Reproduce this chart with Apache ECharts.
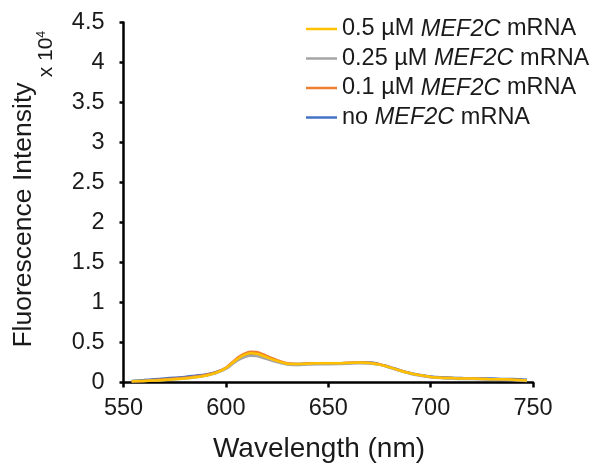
<!DOCTYPE html>
<html>
<head>
<meta charset="utf-8">
<script src="https://cdn.jsdelivr.net/npm/echarts@6/dist/echarts.min.js"></script>
<style>
html,body{margin:0;padding:0;background:#fff;}
#chart{width:594px;height:470px;}
</style>
</head>
<body>
<div id="chart"></div>
<script>
// Wavelength (nm)
var wavelengths = [554, 560, 565, 570, 575, 580, 585, 590, 595, 600, 603, 606, 609, 612, 615, 618, 621, 625, 630, 635, 640, 645, 650, 655, 660, 665, 670, 675, 680, 685, 690, 695, 700, 705, 710, 715, 720, 725, 730, 735, 740, 747];
// Fluorescence intensity (x 10^4)
var noMRNA   = [0.020, 0.030, 0.040, 0.050, 0.060, 0.070, 0.085, 0.100, 0.130, 0.180, 0.235, 0.290, 0.330, 0.350, 0.345, 0.325, 0.295, 0.265, 0.235, 0.230, 0.235, 0.240, 0.240, 0.240, 0.245, 0.250, 0.250, 0.230, 0.195, 0.155, 0.120, 0.095, 0.075, 0.065, 0.060, 0.055, 0.050, 0.050, 0.050, 0.045, 0.045, 0.035];
var c01      = [0.015, 0.020, 0.030, 0.040, 0.050, 0.060, 0.075, 0.095, 0.125, 0.185, 0.250, 0.315, 0.360, 0.385, 0.380, 0.355, 0.320, 0.280, 0.240, 0.232, 0.238, 0.242, 0.242, 0.242, 0.247, 0.250, 0.247, 0.228, 0.192, 0.150, 0.115, 0.090, 0.070, 0.060, 0.055, 0.050, 0.048, 0.045, 0.040, 0.040, 0.035, 0.025];
var c025     = [0.015, 0.020, 0.025, 0.030, 0.040, 0.050, 0.065, 0.085, 0.115, 0.170, 0.225, 0.280, 0.315, 0.335, 0.330, 0.310, 0.285, 0.255, 0.225, 0.220, 0.225, 0.228, 0.228, 0.230, 0.235, 0.240, 0.238, 0.220, 0.185, 0.145, 0.110, 0.085, 0.065, 0.055, 0.050, 0.045, 0.045, 0.040, 0.035, 0.035, 0.030, 0.020];
var c05      = [0.015, 0.020, 0.025, 0.030, 0.040, 0.050, 0.065, 0.085, 0.120, 0.180, 0.240, 0.300, 0.345, 0.365, 0.360, 0.335, 0.305, 0.270, 0.235, 0.230, 0.235, 0.240, 0.240, 0.240, 0.245, 0.250, 0.245, 0.225, 0.190, 0.150, 0.115, 0.090, 0.070, 0.060, 0.055, 0.050, 0.050, 0.045, 0.040, 0.040, 0.035, 0.025];

var seriesNames = ['0.5 µM MEF2C mRNA', '0.25 µM MEF2C mRNA', '0.1 µM MEF2C mRNA', 'no MEF2C mRNA'];
var seriesColors = ['#FFC000', '#A5A5A5', '#ED7D31', '#4472C4'];
var seriesValues = [c05, c025, c01, noMRNA];
var legendLabels = {
  '0.5 µM MEF2C mRNA': '0.5 µM {i|MEF2C} mRNA',
  '0.25 µM MEF2C mRNA': '0.25 µM {i|MEF2C} mRNA',
  '0.1 µM MEF2C mRNA': '0.1 µM {i|MEF2C} mRNA',
  'no MEF2C mRNA': 'no {i|MEF2C} mRNA'
};
var xTicks = {min: 550, max: 750, interval: 50};
var yTicks = {min: 0, max: 4.5, interval: 0.5};

function pairs(vals){
  return wavelengths.map(function(w, i){ return [w, vals[i]]; });
}

var FONT = '"Liberation Sans", Arial, sans-serif';
var series = [];
// draw order: blue, orange, gray, yellow (yellow on top)
[3, 2, 1, 0].forEach(function(k){
  series.push({
    name: seriesNames[k],
    type: 'line',
    data: pairs(seriesValues[k]),
    smooth: 0.3,
    symbol: 'none',
    color: seriesColors[k],
    lineStyle: {color: seriesColors[k], width: 2.5},
    animation: false
  });
});

var chart = echarts.init(document.getElementById('chart'), null, {renderer: 'canvas'});
chart.setOption({
  animation: false,
  backgroundColor: '#ffffff',
  grid: {left: 123.5, right: 61, top: 22.5, bottom: 87.5, containLabel: false},
  legend: {
    data: seriesNames.map(function(n){ return {name: n, icon: 'rect'}; }),
    orient: 'vertical',
    left: 306,
    top: 17,
    padding: 0,
    itemWidth: 31,
    itemHeight: 2.5,
    itemGap: 5.5,
    textStyle: {
      fontFamily: FONT, fontSize: 23.5, color: '#1a1a1a',
      rich: {i: {fontFamily: FONT, fontSize: 23.5, fontStyle: 'italic', color: '#1a1a1a'}}
    },
    formatter: function(name){ return legendLabels[name]; }
  },
  xAxis: {
    type: 'value',
    min: xTicks.min, max: xTicks.max, interval: xTicks.interval,
    axisLine: {show: true, onZero: false, lineStyle: {color: '#000', width: 2.5}},
    axisTick: {show: true, inside: false, length: 5, lineStyle: {color: '#000', width: 2.5}},
    axisLabel: {fontFamily: FONT, fontSize: 23.5, color: '#1a1a1a', margin: 14},
    splitLine: {show: false}
  },
  yAxis: {
    type: 'value',
    min: yTicks.min, max: yTicks.max, interval: yTicks.interval,
    axisLine: {show: true, lineStyle: {color: '#000', width: 2.5}},
    axisTick: {show: true, inside: false, length: 4, lineStyle: {color: '#000', width: 2.5}},
    axisLabel: {fontFamily: FONT, fontSize: 23.5, color: '#1a1a1a', margin: 19},
    splitLine: {show: false}
  },
  graphic: [
    {
      type: 'text', x: 24, y: 215, rotation: Math.PI / 2,
      style: {text: 'Fluorescence Intensity', fontFamily: FONT, fontSize: 26.5, fill: '#1a1a1a', align: 'center', verticalAlign: 'middle'}
    },
    {
      type: 'text', x: 46, y: 54, rotation: Math.PI / 2,
      style: {
        text: '{a|x 10}{s|4}', fontFamily: FONT, fill: '#1a1a1a', align: 'center', verticalAlign: 'middle',
        rich: {
          a: {fontFamily: FONT, fontSize: 21, fill: '#1a1a1a', color: '#1a1a1a'},
          s: {fontFamily: FONT, fontSize: 12.5, fill: '#1a1a1a', color: '#1a1a1a', verticalAlign: 'top'}
        }
      }
    },
    {
      type: 'text', x: 319, y: 449,
      style: {text: 'Wavelength (nm)', fontFamily: FONT, fontSize: 28, fill: '#1a1a1a', align: 'center', verticalAlign: 'middle'}
    }
  ],
  series: series
});
</script>
</body>
</html>
